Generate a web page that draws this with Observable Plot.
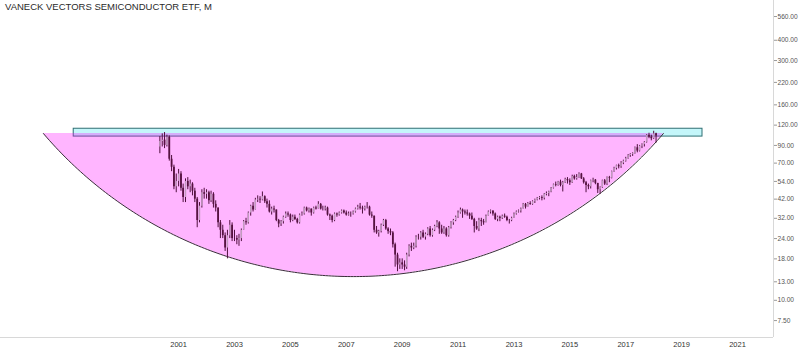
<!DOCTYPE html>
<html><head><meta charset="utf-8">
<script src="https://cdn.jsdelivr.net/npm/d3@7"></script>
<script src="https://cdn.jsdelivr.net/npm/@observablehq/plot@0.6"></script>
<style>
body{margin:0;background:#fff;}
#wrap{position:relative;width:800px;height:352px;}
#title{position:absolute;left:5px;top:1px;font:9.5px "Liberation Sans",Arial,sans-serif;color:#2a2a2a;z-index:2;}
svg{display:block;}
</style></head><body>
<div id="wrap"><div id="title">VANECK VECTORS SEMICONDUCTOR ETF, M</div></div>
<script>
// Monthly candles, first bar = May 2000
const startYear = 2000, startMonth = 4;
const firstOpen = 88;
const closes = [
 95,97,90,101,74,66,50,54,
 60,49,43,54,50,52,47,42,31,38,46,45,
 46,41,45,39,37,30,27,25,21,25,29,24,
 24,23.5,24,27,30.5,30,34.5,38,36,41.5,42,41.5,
 43.5,40.5,39,35,36.5,36,31,29.5,30.5,32.5,34,33.5,
 31,32.5,31.5,30,33.5,34,37,35.5,36.5,34.5,37,36.5,
 39,36.5,36.5,37,33.5,33,31,34,33.5,34.5,35.5,34.5,
 33.5,34,34,35,36.5,37.5,37,36.5,37.5,37.5,33.5,33,
 27,26,26.5,29,31,27.5,26.5,26,22,19,16.5,17,
 16.5,16,19,21.5,21,21.5,24.5,24.5,26,24.5,25.5,27.5,
 25,27,28.5,30,27.5,26,27.5,25,28,30,31,32.5,
 34.5,36,35,34.5,34,33,31.5,28.5,27.5,31,30.5,30,
 33,35,35.5,34,31.5,32.5,32,33,32.5,31,31,32,
 34,35,35.5,36.5,39,37.5,39.5,39,40.5,41.5,42.5,43,
 42.5,45,45.5,46.5,49,51.5,51,53.5,51,53,55.5,54.5,
 53,58,56,57,60,56,53,51,50,54.5,55,52.5,
 48,49.5,54.5,52,57,56.5,62,65,67.5,66.5,70,72,
 74.5,78,79,80,87,83,89,91,94,104,101,99,
 106,103
];
const highs = [
 102,106,108,104,103,78,68,60,
 64,62,52,56,57,55,53,49,43,40,48,49,
 48,47,47,46,41,37,31,29,26,27,31,30,
 27,25,25.5,27.5,31,32,35,38.5,40,42.5,44,43.5,
 46.5,44,42,41,37.5,38,36,31.5,31,33,35,35,
 34,33.5,33.5,32,34,35,37.5,37.5,37,36.5,37.5,38,
 40.5,39.5,38,38,37.5,34,33.5,34.5,34.5,35,36,36,
 35.5,35,35,35.5,37,38.5,39.5,38,38,40,38,35,
 33,28.5,27,29.5,31.5,31.5,28,27.5,26.5,22.5,19.5,18,
 18,17.5,19.5,22,22.5,22.5,25,25.5,26.5,27,26,28,
 28.5,27.5,29,31,30.5,29,28.5,28,28.5,30.5,31.5,33,
 35.5,37,36.5,36,36,34.5,34.5,32,30.5,32,32,31.5,
 33.5,35.5,36,35.5,34.5,33,33,33.5,34,33,31.5,32.5,
 34.5,35.5,36,37,39.5,39.5,40,40.5,41,42,43,43.5,
 44,45.5,46.5,47,49.5,52,53.5,54,55,54,56.5,57,
 56,59,59,59.5,61,60.5,57,54,52,55,56.5,55.5,
 52.5,50,55,55.5,57.5,58,62.5,66,68,69,71.5,73,
 76,79,80,81,88,91,90,92,95,105,107,104,
 110,107
];
const lows = [
 80,88,86,88,72,62,48,46,
 50,47,40,40,48,46,44,40,28,30,37,42,
 42,39,40,37,35,28,24,24,20,18,24,23,
 23,22,21.5,23,27,29,29.5,33,35,36,40,39.5,
 41,39.5,37,34.5,33.5,34.5,30.5,28,28.5,29.5,32,32.5,
 30,30.5,31,29.5,29.5,33,33.5,35,34.5,33,34,36,
 36.5,36,35.5,35.5,33,31,30,30.5,32.5,33,34,34,
 33,33,32.5,33.5,34.5,36,36,34,35.5,36.5,33,32,
 26,25.5,24.5,26,28.5,27,25.5,25,21,16,15,15.5,
 15.5,15.2,15.5,18.5,20,20.5,21,23.5,23.5,24,23.5,25,
 24.5,24.5,26.5,28,25.5,25.5,25.5,24.5,24.5,27.5,29,30.5,
 32,34,32,33.5,33,31.5,31,26,27,26.5,28.5,29,
 30,33,34,33,31,30.5,30.5,31.5,32,30.5,29.5,30.5,
 32,33.5,34.5,34.5,36.5,36.5,37.5,38.5,38.5,39.5,41,41.5,
 41,41.5,44,43.5,46,48.5,50,50.5,50,46.5,52.5,52,
 51,52.5,55,55,56.5,55.5,52,46,48,48.5,53,51.5,
 45.5,45,49,51,51,53,56,61.5,63.5,64.5,65,68.5,
 71,74,76,77,79.5,81,82,86,88,93,99,96,
 98,93
];
const yTicks = [7.5,10,13,18,24,32,42,54,70,90,120,160,220,300,400,560];
const xTickYears = [2001,2003,2005,2007,2009,2011,2013,2015,2017,2019,2021];
// Drawings: cup arc and resistance band
const cupStart = "1996-03-01", cupEnd = "2018-05-08", cupRim = 106.5, cupBottom = 14.0;
const bandStart = "1997-04-01", bandEnd = "2019-10-01", bandTop = 114, bandBottom = 102;

const W = 800, H = 352, mR = 27, mB = 15;
const xDomain = [new Date(Date.UTC(1994,7,18)), new Date(Date.UTC(2022,3,16))];
const yDomain = [5.9, 703];

const candles = closes.map((c,i) => {
  const o = i === 0 ? firstOpen : closes[i-1];
  return {date: new Date(Date.UTC(startYear, startMonth + i, 1)), open:o, close:c,
          high: Math.max(highs[i], o, c), low: Math.min(lows[i], o, c), up: c >= o};
});

// arc: circular in screen space through both rim points and the bottom
const xs = d3.scaleUtc().domain(xDomain).range([0, W - mR]);
const ys = d3.scaleLog().domain(yDomain).range([H - mB, 0]);
const x0 = xs(new Date(cupStart)), x1 = xs(new Date(cupEnd));
const yr = ys(cupRim), yb = ys(cupBottom);
const hw = (x1 - x0)/2, sag = yb - yr, R = (hw*hw + sag*sag)/(2*sag);
const cx = (x0 + x1)/2, cy = yb - R;
const arc = d3.range(0, 201).map(k => {
  const px = x0 + (x1 - x0)*k/200;
  const py = cy + Math.sqrt(Math.max(0, R*R - (px-cx)*(px-cx)));
  return {date: xs.invert(px), price: ys.invert(py)};
});

const band = [{x1:new Date(bandStart), x2:new Date(bandEnd), y1:bandBottom, y2:bandTop}];
const xTickDates = xTickYears.map(y => new Date(Date.UTC(y,0,1)));

const plot = Plot.plot({
  width: W, height: H,
  marginLeft: 0, marginRight: mR, marginTop: 0, marginBottom: mB,
  style: {fontFamily: "'Liberation Sans', Arial, sans-serif", fontSize: "7px", background: "#fff", overflow: "visible"},
  x: {type: "utc", domain: xDomain, axis: null},
  y: {type: "log", domain: yDomain, axis: null},
  marks: [
    Plot.rect(band, {x1:"x1", x2:"x2", y1:"y1", y2:"y2", fill:"#c4f6fa", stroke:"#2f6f73", strokeWidth:1}),
    Plot.areaY(arc, {x:"date", y1:"price", y2: () => cupRim, fill:"#ff00ff", fillOpacity:0.29}),
    Plot.line(arc, {x:"date", y:"price", stroke:"#3a2a3a", strokeWidth:1}),
    Plot.ruleX(candles, {x:"date", y1:"low", y2:"high", stroke:"#4e0f3c", strokeWidth:1}),
    Plot.ruleX(candles.filter(d=>!d.up), {x:"date", y1:"open", y2:"close", stroke:"#561240", strokeWidth:1.8}),
    Plot.ruleX(candles.filter(d=>d.up), {x:"date", y1:"open", y2:"close", stroke:"#c29cc0", strokeWidth:1.4}),
    Plot.ruleX([xDomain[1]], {stroke:"#d8d8d8"}),
    Plot.ruleY([yDomain[0]], {stroke:"#d8d8d8"}),
    Plot.axisY({anchor: "right", ticks: yTicks, tickSize: 3, tickPadding: 0, tickFormat: () => "", color: "#999"}),
    Plot.text(yTicks, {y: d => d, text: d => d.toFixed(2), frameAnchor: "right", dx: 4, textAnchor: "start", fill: "#555", fontSize: 6.6}),
    Plot.text(xTickDates, {x: d => d, text: d => String(d.getUTCFullYear()), frameAnchor: "bottom", dy: 9, fill: "#333", fontSize: 7.5})
  ]
});
document.getElementById("wrap").appendChild(plot);
</script>
</body></html>
